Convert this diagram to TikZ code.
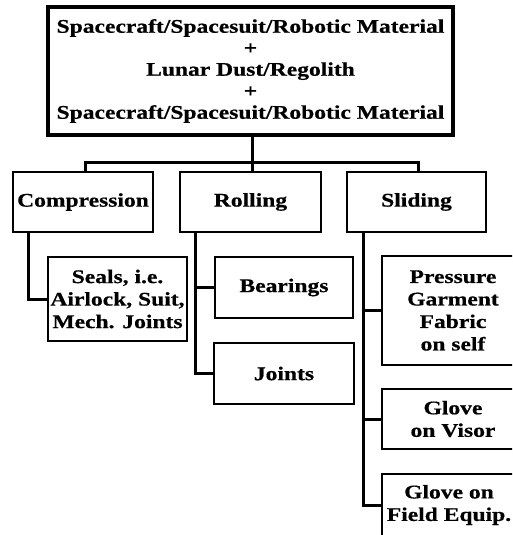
\documentclass[tikz,border=0pt]{standalone}
\usepackage{fontspec}
\setmainfont[FakeStretch=1.22,BoldFeatures={FakeBold=0.6}]{Liberation Serif}
\begin{document}
\begin{tikzpicture}[x=1pt,y=-1pt,
  txt/.style={font=\fontsize{19.3}{21.5}\selectfont\bfseries, align=center, inner sep=0pt},
  topbox/.style={draw, line width=3.6pt, txt},
  box/.style={draw, line width=2.2pt, txt, font=\fontsize{19.3}{22.5}\selectfont\bfseries},
  conn/.style={line width=3pt}]
\useasboundingbox (0,0) rectangle (512,535);
\begin{scope}
\clip (0,0) rectangle (512,535);
\node[topbox, minimum width=405pt, minimum height=128pt] (top) at (250.5,71)
  {Spacecraft/Spacesuit/Robotic Material\\+\\Lunar Dust/Regolith\\+\\Spacecraft/Spacesuit/Robotic Material};
\node[box, minimum width=140pt, minimum height=60pt] (comp) at (83,202) {Compression};
\node[box, minimum width=141pt, minimum height=60pt] (roll) at (250.5,202) {Rolling};
\node[box, minimum width=139pt, minimum height=60pt] (slid) at (416.5,202) {Sliding};
\node[box, minimum width=139pt, minimum height=84pt] (seals) at (117.5,299) {Seals, i.e.\\Airlock, Suit,\\Mech. Joints};
\node[box, minimum width=138pt, minimum height=61pt] (bear) at (284,287.5) {Bearings};
\node[box, minimum width=140pt, minimum height=61pt] (joints) at (284,373.5) {Joints};
\node[box, minimum width=142pt, minimum height=109pt] (press) at (453,310.5) {Pressure\\Garment\\Fabric\\on self};
\node[box, minimum width=142pt, minimum height=60pt] (visor) at (453,419) {Glove\\on Visor};
\node[box, minimum width=134pt, minimum height=62pt] (field) at (449,505) {Glove on\\Field Equip.};
\coordinate (bar) at (252,162);
\coordinate (cs) at (28,232);
\coordinate (rs) at (195,232);
\coordinate (ss) at (363,232);
\draw[conn] (top.south -| bar) -- (bar);
\draw[conn] (comp.north -| 85,0) |- (bar) -| (slid.north -| 418,0);
\draw[conn] (bar) -- (bar |- roll.north);
\draw[conn] (cs) |- (seals.west);
\draw[conn] (rs) |- (bear.west);
\draw[conn] (rs) |- (joints.west);
\draw[conn] (ss) |- (press.west);
\draw[conn] (ss) |- (visor.west);
\draw[conn] (ss) |- (field.west);
\end{scope}
\end{tikzpicture}
\end{document}
